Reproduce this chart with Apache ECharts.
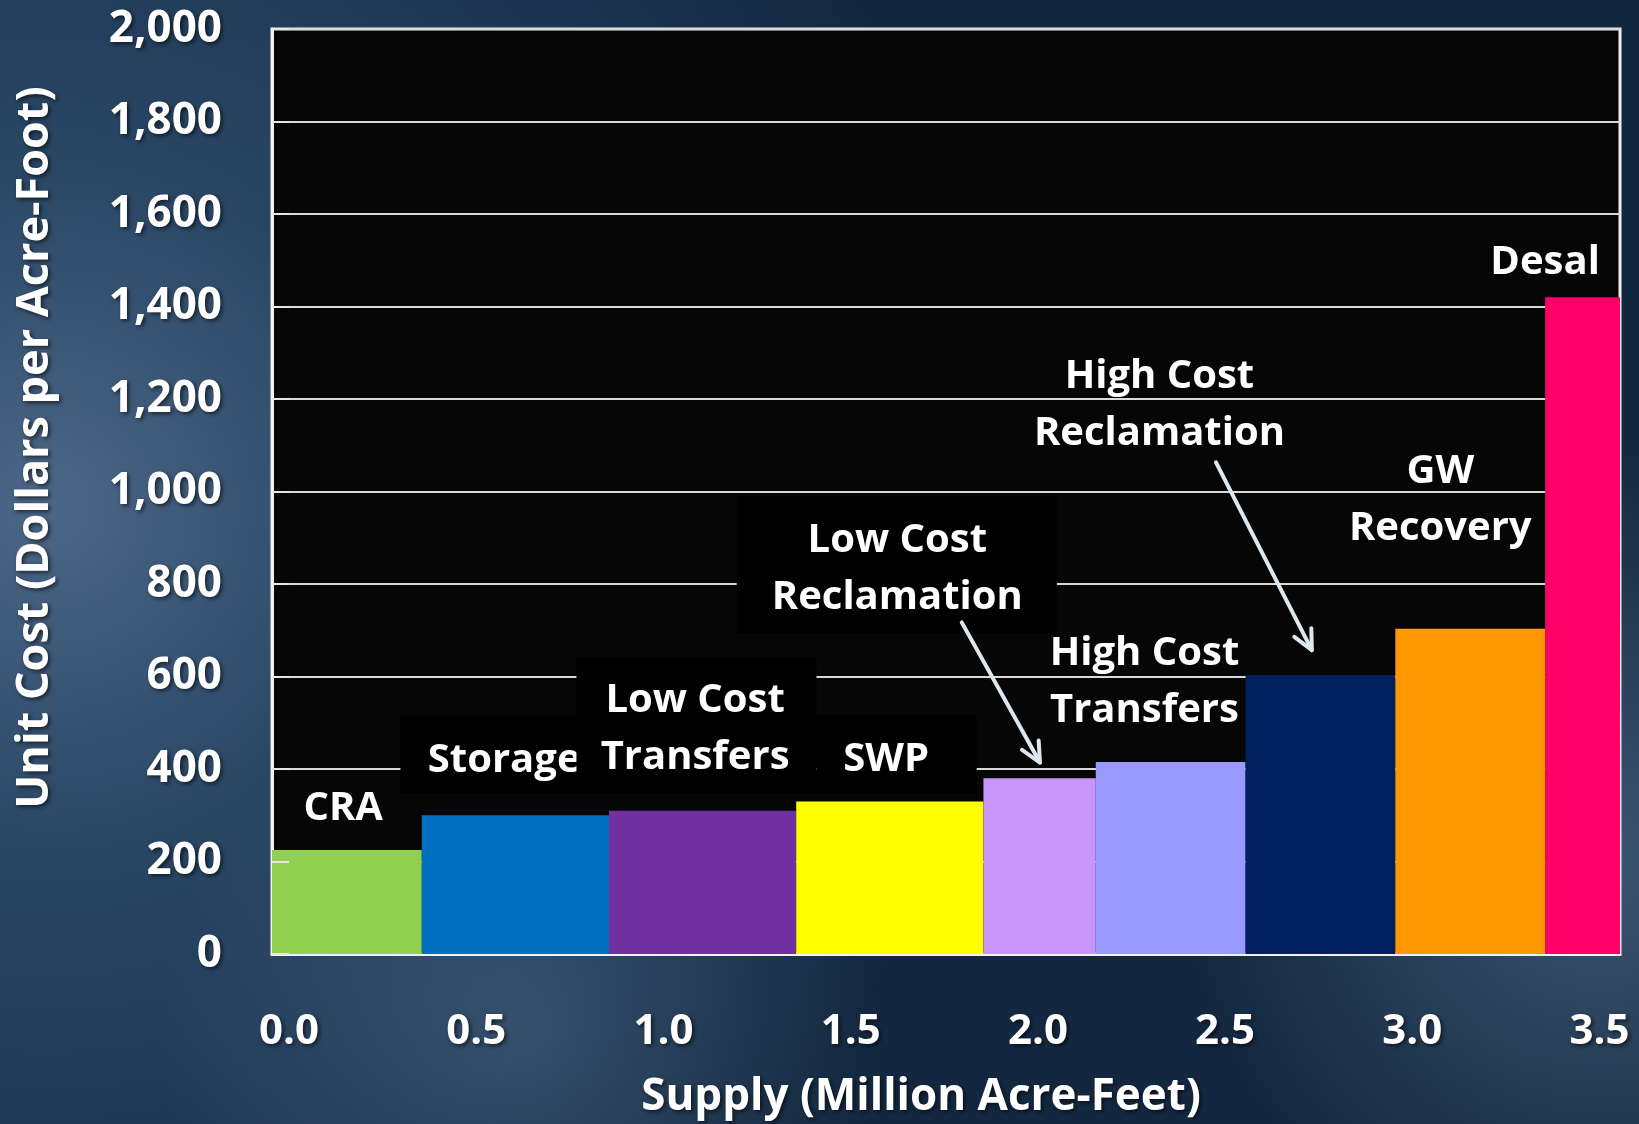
<!DOCTYPE html>
<html>
<head>
<meta charset="utf-8">
<title>Unit Cost vs Supply</title>
<script src="https://cdn.jsdelivr.net/npm/echarts@6/dist/echarts.min.js"></script>
<style>
  html, body { margin: 0; padding: 0; background: #1d3754; }
  #chart { width: 1639px; height: 1124px; }
</style>
</head>
<body>
<div id="chart"></div>
<script>
// supply sources, in the order they stack along the x axis
const sourceNames = ['CRA', 'Storage', 'Low Cost Transfers', 'SWP', 'Low Cost Reclamation',
  'High Cost Transfers', 'High Cost Reclamation', 'GW Recovery', 'Desal'];
// supply of each source (million acre-feet) = bar width
const supplyMAF = [0.4, 0.5, 0.5, 0.5, 0.3, 0.4, 0.4, 0.4, 0.2];
// unit cost (dollars per acre-foot) = bar height
const unitCost = [225, 300, 310, 330, 380, 415, 603, 703, 1420];
const barColors = ['#92d050', '#0070c0', '#7030a0', '#ffff00', '#c896fa',
  '#9999ff', '#002060', '#ff9900', '#ff0066'];

const xMax = 3.6;
const xStep = 0.5;
const yMax = 2000;
const yStep = 200;

// build [start, end, cost] rows from the widths
let cursor = 0;
const barRows = supplyMAF.map((w, i) => {
  const row = [cursor, cursor + w, unitCost[i]];
  cursor += w;
  return row;
});

// text labels inside the plot (x in MAF, y in $/AF), box = black backing
const annotations = [
  { text: 'CRA', x: 0.19, y: 315 },
  { text: 'Storage', x: 0.62, y: 419, box: [0.343, 0.813, 347, 513] },
  { text: 'Low Cost\nTransfers', x: 1.13, y: 486, box: [0.813, 1.454, 347, 641] },
  { text: 'SWP', x: 1.64, y: 421, box: [1.454, 1.882, 347, 516] },
  { text: 'Low Cost\nReclamation', x: 1.67, y: 832, box: [1.241, 2.096, 693, 989] },
  { text: 'High Cost\nTransfers', x: 2.33, y: 588 },
  { text: 'High Cost\nReclamation', x: 2.37, y: 1187 },
  { text: 'GW\nRecovery', x: 3.12, y: 981 },
  { text: 'Desal', x: 3.40, y: 1494 }
];
// pointer arrows [fromX, fromY, toX, toY]
const arrows = [
  [1.842, 717, 2.051, 414],
  [2.521, 1063, 2.777, 657]
];

const FONT = '"Open Sans", "Noto Sans", sans-serif';
const shadowText = {
  textShadowColor: 'rgba(0,0,0,0.6)',
  textShadowBlur: 4,
  textShadowOffsetX: 2,
  textShadowOffsetY: 2
};

const chart = echarts.init(document.getElementById('chart'));

function renderBar(params, api) {
  const topLeft = api.coord([api.value(0), api.value(2)]);
  const bottomRight = api.coord([api.value(1), 0]);
  return {
    type: 'rect',
    shape: {
      x: topLeft[0],
      y: topLeft[1],
      width: bottomRight[0] - topLeft[0],
      height: bottomRight[1] - topLeft[1]
    },
    style: { fill: barColors[params.dataIndex] }
  };
}

function renderLabel(params, api) {
  const a = annotations[params.dataIndex];
  const children = [];
  if (a.box) {
    const p0 = api.coord([a.box[0], a.box[3]]);
    const p1 = api.coord([a.box[1], a.box[2]]);
    children.push({
      type: 'rect',
      shape: { x: p0[0], y: p0[1], width: p1[0] - p0[0], height: p1[1] - p0[1] },
      style: { fill: '#000000' }
    });
  }
  const c = api.coord([a.x, a.y]);
  children.push({
    type: 'text',
    x: c[0],
    y: c[1],
    style: {
      text: a.text,
      fill: '#ffffff',
      fontFamily: FONT,
      fontWeight: 'bold',
      fontSize: 40,
      lineHeight: 57,
      align: 'center',
      verticalAlign: 'middle'
    }
  });
  return { type: 'group', children: children };
}

function renderArrow(params, api) {
  const from = api.coord([api.value(0), api.value(1)]);
  const to = api.coord([api.value(2), api.value(3)]);
  const ang = Math.atan2(to[1] - from[1], to[0] - from[0]);
  const head = 22;
  const spread = Math.PI / 7;
  const left = [to[0] - head * Math.cos(ang - spread), to[1] - head * Math.sin(ang - spread)];
  const right = [to[0] - head * Math.cos(ang + spread), to[1] - head * Math.sin(ang + spread)];
  const stroke = { stroke: '#dce7ee', lineWidth: 4, lineCap: 'round', lineJoin: 'round', fill: null };
  return {
    type: 'group',
    children: [
      { type: 'line', shape: { x1: from[0], y1: from[1], x2: to[0], y2: to[1] }, style: stroke },
      { type: 'polyline', shape: { points: [left, to, right] }, style: stroke }
    ]
  };
}

const option = {
  backgroundColor: new echarts.graphic.RadialGradient(0.03, 0.45, 0.85, [
    { offset: 0, color: '#4c6787' },
    { offset: 0.35, color: '#2a4766' },
    { offset: 0.75, color: '#1b3350' },
    { offset: 1, color: '#132840' }
  ]),
  graphic: [
    {
      type: 'circle',
      z: -50,
      silent: true,
      shape: { cx: 1600, cy: 860, r: 420 },
      style: {
        fill: new echarts.graphic.RadialGradient(0.5, 0.5, 0.5, [
          { offset: 0, color: 'rgba(110,140,170,0.45)' },
          { offset: 1, color: 'rgba(110,140,170,0)' }
        ])
      }
    },
    {
      type: 'circle',
      z: -50,
      silent: true,
      shape: { cx: 520, cy: 1030, r: 360 },
      style: {
        fill: new echarts.graphic.RadialGradient(0.5, 0.5, 0.5, [
          { offset: 0, color: 'rgba(100,130,160,0.35)' },
          { offset: 1, color: 'rgba(100,130,160,0)' }
        ])
      }
    }
  ],
  grid: {
    left: 272,
    right: 19,
    top: 29,
    bottom: 167,
    show: true,
    backgroundColor: '#060606',
    borderColor: '#eeeeee',
    borderWidth: 3
  },
  xAxis: {
    type: 'value',
    min: 0,
    max: xMax,
    interval: xStep,
    name: 'Supply (Million Acre-Feet)',
    nameLocation: 'middle',
    nameGap: 121,
    nameTextStyle: {
      color: '#ffffff',
      fontFamily: FONT,
      fontWeight: 'bold',
      fontSize: 44,
      padding: [0, 50, 0, 0],
      ...shadowText
    },
    axisLine: { show: true, onZero: false, lineStyle: { color: '#f2f2f2', width: 3 } },
    axisTick: { show: false },
    splitLine: { show: false },
    axisLabel: {
      color: '#ffffff',
      fontFamily: FONT,
      fontWeight: 'bold',
      fontSize: 42,
      margin: 57,
      padding: [0, 0, 0, 34],
      formatter: v => (v > 3.55 ? '' : v.toFixed(1)),
      ...shadowText
    }
  },
  yAxis: [
    {
      type: 'value',
      min: 0,
      max: yMax,
      interval: yStep,
      name: 'Unit Cost (Dollars per Acre-Foot)',
      nameLocation: 'middle',
      nameRotate: 90,
      nameGap: 214,
      nameTextStyle: {
        color: '#ffffff',
        fontFamily: FONT,
        fontWeight: 'bold',
        fontSize: 45,
        padding: [0, 0, 0, 88],
        ...shadowText
      },
      axisLine: { show: true, lineStyle: { color: '#f2f2f2', width: 3 } },
      axisTick: { show: false },
      splitLine: { show: true, lineStyle: { color: '#d9d9d9', width: 2 } },
      axisLabel: {
        color: '#ffffff',
        fontFamily: FONT,
        fontWeight: 'bold',
        fontSize: 44,
        margin: 50,
        formatter: v => v.toLocaleString('en-US'),
        ...shadowText
      }
    },
    {
      // tick marks only, drawn over the bars
      type: 'value',
      position: 'left',
      min: 0,
      max: yMax,
      interval: yStep,
      z: 10,
      axisLine: { show: false },
      axisLabel: { show: false },
      splitLine: { show: false },
      axisTick: { show: true, inside: true, length: 17, lineStyle: { color: '#e6e6e6', width: 2 } }
    }
  ],
  series: [
    {
      name: 'Unit Cost',
      type: 'custom',
      renderItem: renderBar,
      encode: { x: [0, 1], y: 2 },
      data: barRows,
      z: 2
    },
    {
      name: 'Labels',
      type: 'custom',
      renderItem: renderLabel,
      encode: { x: 0, y: 1 },
      data: annotations.map(a => [a.x, a.y]),
      z: 3,
      silent: true
    },
    {
      name: 'Arrows',
      type: 'custom',
      renderItem: renderArrow,
      encode: { x: [0, 2], y: [1, 3] },
      data: arrows,
      z: 4,
      silent: true
    }
  ]
};

chart.setOption(option);
window.addEventListener('resize', () => chart.resize());
</script>
</body>
</html>
